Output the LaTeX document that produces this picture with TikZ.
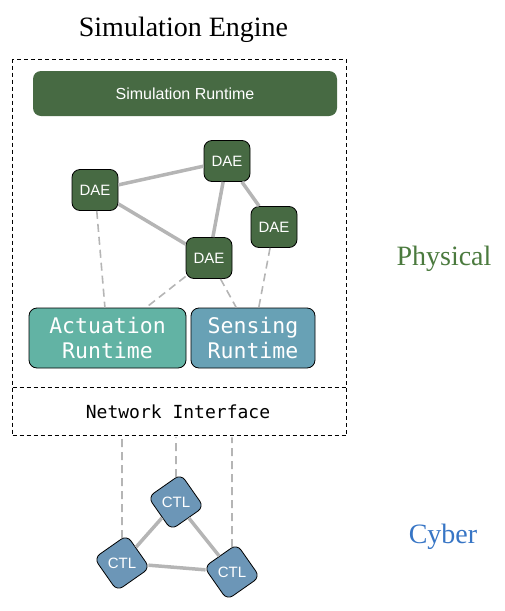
\documentclass[tikz,border=0pt]{standalone}
\usepackage{fontspec}
\setmainfont{Liberation Serif}
\setsansfont{Liberation Sans}
\setmonofont{DejaVu Sans Mono}
\definecolor{daegreen}{HTML}{476A43}
\definecolor{actcol}{HTML}{62B3A4}
\definecolor{sencol}{HTML}{68A1B5}
\definecolor{ctlcol}{HTML}{6C96B7}
\definecolor{linkgray}{HTML}{B5B5B5}
\definecolor{physcol}{HTML}{4B7A3E}
\definecolor{cybcol}{HTML}{3775C5}
\tikzset{
  dae/.style={draw=black, line width=0.8pt, fill=daegreen, rounded corners=8pt,
    minimum width=46pt, minimum height=41pt, inner sep=0pt, text=white,
    font=\sffamily\fontsize{15}{18}\selectfont},
  ctl/.style={draw=black, line width=0.8pt, fill=ctlcol, rounded corners=7pt,
    minimum width=40pt, minimum height=40pt, inner sep=0pt, text=white, rotate=35,
    font=\sffamily\fontsize{15}{18}\selectfont},
  runtime/.style={draw=black, line width=0.8pt, rounded corners=8pt,
    minimum height=60pt, inner sep=0pt, text=white, align=center,
    font=\ttfamily\fontsize{21.5}{25}\selectfont},
  solidlink/.style={draw=linkgray, line width=3.5pt},
  dashlink/.style={draw=linkgray, line width=1.6pt, dash pattern=on 8pt off 5pt},
  enginebox/.style={draw=black, line width=0.8pt, dash pattern=on 4pt off 3pt},
  bigserif/.style={font=\fontsize{28}{32}\selectfont, anchor=base, inner sep=0pt},
}
\begin{document}
\begin{tikzpicture}[x=1pt,y=-1pt]
\useasboundingbox (0,0) rectangle (505,611);

\node[bigserif] (title) at (183.5,36) {Simulation Engine};
\node[bigserif, text=physcol] (phys) at (444,265) {Physical};
\node[bigserif, text=cybcol] (cyber) at (443,543) {Cyber};

\node[enginebox, minimum width=334pt, minimum height=376pt, inner sep=0pt] (engine) at (179.5,247.5) {};
\coordinate (divl) at (12.5,387);
\draw[enginebox] (divl) -- (divl -| engine.east);

\node[fill=daegreen, rounded corners=8pt, minimum width=304pt, minimum height=45pt,
  text=white, font=\sffamily\fontsize{16}{19}\selectfont] (simrt) at (185,93.5) {Simulation Runtime};

\node[dae] (d1) at (95,190) {DAE};
\node[dae] (d2) at (227,161) {DAE};
\node[dae] (d3) at (274,227) {DAE};
\node[dae] (d4) at (209,258) {DAE};

\node[runtime, fill=actcol, minimum width=157pt] (act) at (107.5,338) {Actuation\\Runtime};
\node[runtime, fill=sencol, minimum width=124pt] (sen) at (253,338) {Sensing\\Runtime};

\node[font=\ttfamily\fontsize{18}{21}\selectfont] (ni) at (178,412) {Network Interface};

\draw[solidlink] (d1) -- (d2);
\draw[solidlink] (d1) -- (d4);
\draw[solidlink] (d2) -- (d4);
\draw[solidlink] (d2) -- (d3);
\draw[dashlink] (d1) -- (act);
\draw[dashlink] (d4) -- (act);
\draw[dashlink] (d4) -- (sen);
\draw[dashlink] (d3) -- (sen);

\node[ctl] (c1) at (176,502) {\rotatebox{-35}{CTL}};
\node[ctl] (c2) at (122,563) {\rotatebox{-35}{CTL}};
\node[ctl] (c3) at (232,572) {\rotatebox{-35}{CTL}};

\draw[solidlink] (c1) -- (c2);
\draw[solidlink] (c1) -- (c3);
\draw[solidlink] (c2) -- (c3);
\draw[dashlink] (c1) -- ([yshift=-1.5pt]c1 |- engine.south);
\draw[dashlink] (c2) -- ([yshift=-1.5pt]c2 |- engine.south);
\draw[dashlink] (c3) -- ([yshift=-1.5pt]c3 |- engine.south);
\end{tikzpicture}
\end{document}
